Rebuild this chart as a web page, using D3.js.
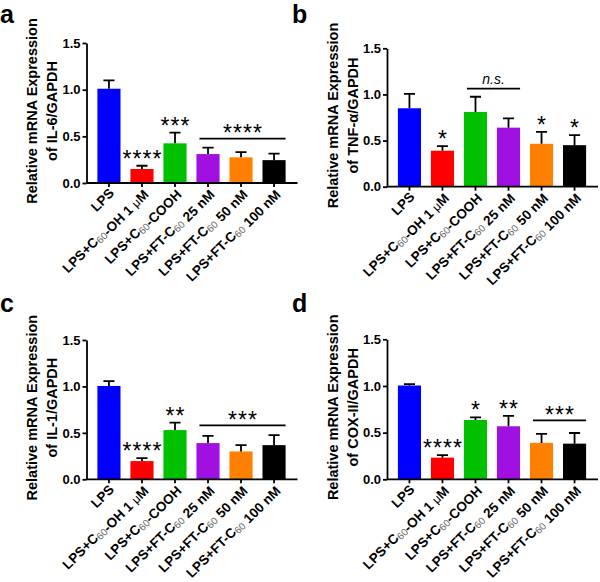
<!DOCTYPE html>
<html>
<head>
<meta charset="utf-8">
<script src="https://cdn.jsdelivr.net/npm/d3@7"></script>
<style>
  body { margin: 0; background: #fff; }
  svg { display: block; font-family: "Liberation Sans", Arial, sans-serif; }
</style>
</head>
<body>
<div id="chart"></div>
<script>
// categories (shared by all four panels)
const groups = ["LPS", "LPS+C60-OH 1 μM", "LPS+C60-COOH", "LPS+FT-C60 25 nM", "LPS+FT-C60 50 nM", "LPS+FT-C60 100 nM"];
const barColors = ["#0000ff", "#ff0000", "#00c000", "#a010e0", "#ff8000", "#000000"];
const yTicks = [0, 0.5, 1.0, 1.5];

// panel a: IL-6
const il6Mean = [1.01, 0.15, 0.425, 0.31, 0.275, 0.245];
const il6Err  = [0.09, 0.035, 0.115, 0.07, 0.055, 0.07];
const il6Stars = ["", "****", "***", "", "", ""];
const il6Bracket = {from: 3, to: 5, at: 0.475, label: "****"};

// panel b: TNF-alpha
const tnfMean = [0.85, 0.39, 0.81, 0.64, 0.465, 0.45];
const tnfErr  = [0.155, 0.05, 0.165, 0.10, 0.13, 0.11];
const tnfStars = ["", "*", "", "", "*", "*"];
const tnfBracket = {from: 2, to: 3, at: 1.063, label: "n.s."};

// panel c: IL-1
const il1Mean = [1.005, 0.196, 0.53, 0.39, 0.30, 0.368];
const il1Err  = [0.052, 0.033, 0.08, 0.078, 0.068, 0.107];
const il1Stars = ["", "****", "**", "", "", ""];
const il1Bracket = {from: 3, to: 5, at: 0.58, label: "***"};

// panel d: COX-II
const coxMean = [1.005, 0.232, 0.636, 0.568, 0.39, 0.382];
const coxErr  = [0.015, 0.028, 0.028, 0.111, 0.096, 0.114];
const coxStars = ["", "****", "*", "**", "", ""];
const coxBracket = {from: 4, to: 5, at: 0.632, label: "***"};

const width = 600, height = 582;
const svg = d3.select("#chart").append("svg")
  .attr("width", width)
  .attr("height", height);

const panels = [
  {letter: "a", gene: "IL-6", mean: il6Mean, err: il6Err, stars: il6Stars, bracket: il6Bracket,
   ox: 0, y0: 183, y1: 43, lx: 0, ly: 23},
  {letter: "b", gene: "TNF-α", mean: tnfMean, err: tnfErr, stars: tnfStars, bracket: tnfBracket,
   ox: 300.5, y0: 186.7, y1: 48.3, lx: 292, ly: 23},
  {letter: "c", gene: "IL-1", mean: il1Mean, err: il1Err, stars: il1Stars, bracket: il1Bracket,
   ox: 0, y0: 479.3, y1: 340, lx: 0, ly: 312},
  {letter: "d", gene: "COX-II", mean: coxMean, err: coxErr, stars: coxStars, bracket: coxBracket,
   ox: 300.5, y0: 479.3, y1: 339.3, lx: 292, ly: 312}
];

// write a label with subscript 60 and thin mu
const writeLabel = (sel, label) => {
  const parts = label.split(/(60|μ)/).filter(p => p !== "");
  parts.forEach(p => {
    if (p === "60") {
      sel.append("tspan").text(p)
        .attr("font-size", "10px").attr("font-weight", "normal")
        .attr("fill", "#666").attr("dy", 2);
      sel.append("tspan").attr("dy", -2).text("");
    } else if (p === "μ") {
      sel.append("tspan").text(p).attr("font-weight", "normal").attr("font-size", "12px");
    } else {
      sel.append("tspan").text(p);
    }
  });
};

panels.forEach(p => {
  const axisX = p.ox + 86.5;
  const g = svg.append("g");

  const x = d3.scaleBand()
    .domain(d3.range(groups.length))
    .range([axisX, axisX + 210])
    .paddingInner(0.3)
    .paddingOuter(0.33);

  const y = d3.scaleLinear()
    .domain([0, 1.5])
    .range([p.y0, p.y1]);

  const rows = p.mean.map((m, i) => ({i, mean: m, err: p.err[i], star: p.stars[i]}));

  // bars
  g.selectAll("rect.bar")
    .data(rows)
    .join("rect")
      .attr("class", "bar")
      .attr("x", d => x(d.i))
      .attr("width", x.bandwidth())
      .attr("y", d => y(d.mean))
      .attr("height", d => y(0) - y(d.mean))
      .attr("fill", d => barColors[d.i]);

  // error bars (upper only)
  const cap = x.bandwidth() * 0.24;
  g.selectAll("path.err")
    .data(rows)
    .join("path")
      .attr("class", "err")
      .attr("d", d => {
        const cx = x(d.i) + x.bandwidth() / 2;
        return `M${cx},${y(d.mean)}V${y(d.mean + d.err)}M${cx - cap},${y(d.mean + d.err)}H${cx + cap}`;
      })
      .attr("stroke", "#000")
      .attr("stroke-width", 1.8)
      .attr("fill", "none");

  // stars over single bars
  g.selectAll("text.star")
    .data(rows.filter(d => d.star))
    .join("text")
      .attr("class", "star")
      .attr("x", d => x(d.i) + x.bandwidth() / 2 + 0.5)
      .attr("y", d => y(d.mean + d.err) + 1)
      .attr("text-anchor", "middle")
      .style("font-size", "23px")
      .style("letter-spacing", "1px")
      .text(d => d.star);

  // bracket
  const b = p.bracket;
  const bx0 = x(b.from) + 3, bx1 = x(b.to) + x.bandwidth();
  g.append("line")
    .attr("x1", bx0).attr("x2", bx1)
    .attr("y1", y(b.at)).attr("y2", y(b.at))
    .attr("stroke", "#000").attr("stroke-width", 1.8);
  if (b.label === "n.s.") {
    g.append("text")
      .attr("x", (bx0 + bx1) / 2)
      .attr("y", y(b.at) - 5)
      .attr("text-anchor", "middle")
      .style("font-size", "14px")
      .style("font-style", "italic")
      .text(b.label);
  } else {
    g.append("text")
      .attr("x", (bx0 + bx1) / 2 + 0.5)
      .attr("y", y(b.at) + 2.5)
      .attr("text-anchor", "middle")
      .style("font-size", "23px")
      .style("letter-spacing", "1px")
      .text(b.label);
  }

  // y axis
  const yAxis = g.append("g")
    .attr("transform", `translate(${axisX},0)`)
    .call(d3.axisLeft(y).tickValues(yTicks).tickFormat(d3.format(".1f")).tickSize(4).tickSizeOuter(0));
  yAxis.select(".domain").attr("stroke-width", 1.8);
  yAxis.selectAll(".tick line").attr("stroke-width", 1.8);
  yAxis.selectAll(".tick text")
    .attr("x", -6)
    .style("font-size", "13px")
    .style("font-weight", "bold")
    .style("font-family", "'Liberation Sans', Arial, sans-serif");

  // x axis
  const xAxis = g.append("g")
    .attr("transform", `translate(0,${p.y0})`)
    .call(d3.axisBottom(x).tickSize(4).tickSizeOuter(0).tickFormat(""));
  xAxis.select(".domain")
    .attr("d", `M${axisX},0H${axisX + 211}`)
    .attr("stroke-width", 1.8);
  xAxis.selectAll(".tick line").attr("stroke-width", 1.8);

  // rotated category labels
  g.selectAll("text.cat")
    .data(groups)
    .join("text")
      .attr("class", "cat")
      .attr("text-anchor", "end")
      .attr("transform", (d, i) => `translate(${x(i) + x.bandwidth() / 2 + 6},${p.y0 + 11}) rotate(-45)`)
      .style("font-size", "13.5px")
      .style("font-weight", "bold")
      .each(function(d) { writeLabel(d3.select(this), d); });

  // y title
  const cy = (p.y0 + p.y1) / 2 - 2;
  g.append("text")
    .attr("transform", `translate(${p.ox + 37},${cy}) rotate(-90)`)
    .attr("text-anchor", "middle")
    .style("font-size", "14.5px")
    .style("font-weight", "bold")
    .text("Relative mRNA Expression");
  g.append("text")
    .attr("transform", `translate(${p.ox + 57},${cy}) rotate(-90)`)
    .attr("text-anchor", "middle")
    .style("font-size", "14.5px")
    .style("font-weight", "bold")
    .text(`of ${p.gene}/GAPDH`);

  // panel letter
  svg.append("text")
    .attr("x", p.lx)
    .attr("y", p.ly)
    .style("font-size", "25px")
    .style("font-weight", "bold")
    .text(p.letter);
});
</script>
</body>
</html>
